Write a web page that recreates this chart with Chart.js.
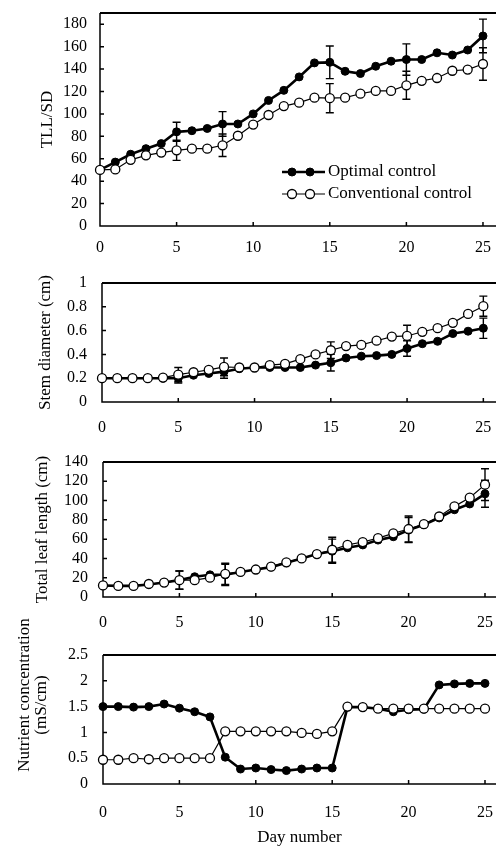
<!DOCTYPE html>
<html>
<head>
<meta charset="utf-8">
<script src="https://cdn.jsdelivr.net/npm/chart.js@4.4.1/dist/chart.umd.min.js"></script>
<style>
  body { margin: 0; background: #fff; }
  canvas { position: absolute; left: 0; }
</style>
</head>
<body>
<canvas id="tll-chart" width="496" height="262" style="top:0px"></canvas>
<canvas id="stem-chart" width="496" height="180" style="top:262px"></canvas>
<canvas id="leaf-chart" width="496" height="190" style="top:442px"></canvas>
<canvas id="nutrient-chart" width="496" height="238" style="top:612px"></canvas>
<script>
// Values (day 0 .. 25)
const days = [0, 1, 2, 3, 4, 5, 6, 7, 8, 9, 10, 11, 12, 13, 14, 15, 16, 17, 18, 19, 20, 21, 22, 23, 24, 25];
const dayTicks = [0, 5, 10, 15, 20, 25];
const errDays = [5, 8, 15, 20, 25];
const seriesNames = ['Optimal control', 'Conventional control'];

const tllOptimal = [50, 57, 64, 69, 73.5, 84, 85, 87, 91, 91, 100, 112, 121, 133, 145.5, 146, 138, 136, 142.5, 147, 148.5, 148.5, 154.5, 152.5, 157, 169.5];
const tllConventional = [50, 50.5, 59, 63, 65.5, 67.5, 69, 69, 72, 80.5, 90.5, 99, 107, 110, 114.5, 114, 114.5, 118, 120.5, 120.5, 125.5, 129.5, 132, 138.5, 139.5, 144.5];
const tllOptimalErr = [8.5, 11, 14.5, 14, 15];
const tllConventionalErr = [9, 10, 13, 12.5, 14.5];
const tllTicks = [0, 20, 40, 60, 80, 100, 120, 140, 160, 180];

const stemOptimal = [0.2, 0.2, 0.2, 0.2, 0.2, 0.2, 0.225, 0.24, 0.255, 0.28, 0.29, 0.29, 0.29, 0.29, 0.31, 0.33, 0.37, 0.385, 0.39, 0.4, 0.45, 0.49, 0.51, 0.575, 0.595, 0.62];
const stemConventional = [0.2, 0.2, 0.2, 0.2, 0.205, 0.23, 0.25, 0.27, 0.295, 0.29, 0.29, 0.31, 0.32, 0.36, 0.4, 0.435, 0.47, 0.48, 0.515, 0.55, 0.555, 0.59, 0.62, 0.665, 0.74, 0.805];
const stemOptimalErr = [0.04, 0.055, 0.07, 0.065, 0.085];
const stemConventionalErr = [0.06, 0.075, 0.07, 0.09, 0.085];
const stemTicks = [0, 0.2, 0.4, 0.6, 0.8, 1];

const leafOptimal = [12, 11.5, 11.5, 13, 15, 17.5, 21, 23, 23, 26, 28.5, 31, 35.5, 40, 44.5, 47.5, 51, 54, 59, 62.5, 69.5, 75, 82, 90.5, 96.5, 107];
const leafConventional = [12, 11.5, 11.5, 13.5, 15, 17.5, 17.5, 20, 24, 26, 28.5, 31.5, 36, 40, 44.5, 49, 54, 57, 61, 66, 70.5, 75.5, 83.5, 94, 103, 116.5];
const leafOptimalErr = [9.5, 11, 12.5, 13, 14];
const leafConventionalErr = [9.5, 11, 13, 13.5, 16.5];
const leafTicks = [0, 20, 40, 60, 80, 100, 120, 140];

const nutrientOptimal = [1.5, 1.5, 1.49, 1.5, 1.55, 1.47, 1.4, 1.3, 0.52, 0.29, 0.31, 0.28, 0.26, 0.29, 0.31, 0.31, 1.49, 1.49, 1.46, 1.4, 1.44, 1.45, 1.92, 1.94, 1.95, 1.95];
const nutrientConventional = [0.47, 0.47, 0.5, 0.48, 0.5, 0.5, 0.5, 0.5, 1.02, 1.02, 1.02, 1.02, 1.02, 0.99, 0.97, 1.02, 1.5, 1.49, 1.46, 1.46, 1.46, 1.46, 1.46, 1.46, 1.46, 1.46];
const nutrientTicks = [0, 0.5, 1, 1.5, 2, 2.5];

const serif = "'Liberation Serif', 'Times New Roman', serif";
const ink = '#000';

function series(values, errs, filled) {
    return {
        label: filled ? seriesNames[0] : seriesNames[1],
        data: days.map((d, i) => ({ x: d, y: values[i] })),
        errs: errs,
        borderColor: ink,
        borderWidth: filled ? 2.6 : 1.2,
        pointRadius: filled ? 4 : 4.5,
        pointBackgroundColor: filled ? ink : '#fff',
        pointBorderColor: ink,
        pointBorderWidth: filled ? 1 : 1.3,
        tension: 0,
        clip: false,
        order: filled ? 1 : 0
    };
}

function drawMarker(ctx, ds, px, py) {
    ctx.beginPath();
    ctx.arc(px, py, ds.pointRadius, 0, Math.PI * 2);
    ctx.fillStyle = ds.pointBackgroundColor;
    ctx.fill();
    ctx.lineWidth = ds.pointBorderWidth;
    ctx.strokeStyle = ink;
    ctx.stroke();
}

// box frame with inward tick marks
const frame = {
    id: 'frame',
    beforeDatasetsDraw(chart) {
        const { ctx, chartArea: a, scales: { x, y } } = chart;
        ctx.save();
        ctx.strokeStyle = ink;
        ctx.lineWidth = 2;
        ctx.beginPath();
        ctx.moveTo(a.left, a.top);
        ctx.lineTo(a.right, a.top);
        ctx.stroke();
        ctx.lineWidth = 1.5;
        ctx.beginPath();
        ctx.moveTo(a.left, a.top);
        ctx.lineTo(a.left, a.bottom);
        ctx.lineTo(a.right, a.bottom);
        x.ticks.forEach(t => {
            const p = x.getPixelForValue(t.value);
            ctx.moveTo(p, a.bottom);
            ctx.lineTo(p, a.bottom - 4);
        });
        y.ticks.forEach(t => {
            const p = y.getPixelForValue(t.value);
            ctx.moveTo(a.left, p);
            ctx.lineTo(a.left + 4, p);
        });
        ctx.stroke();
        ctx.restore();
    }
};

const errorBars = {
    id: 'errorBars',
    beforeDatasetsDraw(chart) {
        const { ctx, scales: { x, y } } = chart;
        ctx.save();
        ctx.strokeStyle = ink;
        ctx.lineWidth = 1.4;
        chart.data.datasets.forEach(ds => {
            if (!ds.errs) return;
            errDays.forEach((d, i) => {
                const v = ds.data[days.indexOf(d)].y;
                const px = x.getPixelForValue(d);
                const top = y.getPixelForValue(v + ds.errs[i]);
                const bot = y.getPixelForValue(v - ds.errs[i]);
                ctx.beginPath();
                ctx.moveTo(px, top); ctx.lineTo(px, bot);
                ctx.moveTo(px - 4, top); ctx.lineTo(px + 4, top);
                ctx.moveTo(px - 4, bot); ctx.lineTo(px + 4, bot);
                ctx.stroke();
            });
        });
        ctx.restore();
    }
};

// legend inside the first panel
const lineKey = {
    id: 'lineKey',
    afterDatasetsDraw(chart) {
        const ctx = chart.ctx;
        ctx.save();
        chart.data.datasets.forEach((ds, i) => {
            const ky = 172 + i * 22;
            ctx.beginPath();
            ctx.moveTo(282, ky);
            ctx.lineTo(325, ky);
            ctx.lineWidth = ds.borderWidth;
            ctx.strokeStyle = ink;
            ctx.stroke();
            drawMarker(ctx, ds, 292, ky);
            drawMarker(ctx, ds, 310, ky);
            ctx.font = '17px ' + serif;
            ctx.fillStyle = ink;
            ctx.textAlign = 'left';
            ctx.textBaseline = 'middle';
            ctx.fillText(ds.label, 328, ky);
        });
        ctx.restore();
    }
};

// two-line rotated axis title of the last panel
const sideTitle = {
    id: 'sideTitle',
    afterDraw(chart) {
        const ctx = chart.ctx;
        ctx.save();
        ctx.font = '17px ' + serif;
        ctx.fillStyle = ink;
        ctx.textAlign = 'center';
        ctx.textBaseline = 'middle';
        [['Nutrient concentration', 25, 83], ['(mS/cm)', 42, 93]].forEach(([text, cx, cy]) => {
            ctx.save();
            ctx.translate(cx, cy);
            ctx.rotate(-Math.PI / 2);
            ctx.fillText(text, 0, 0);
            ctx.restore();
        });
        ctx.restore();
    }
};

function makePanel(id, p) {
    return new Chart(document.getElementById(id).getContext('2d'), {
        type: 'line',
        data: {
            datasets: [
                series(p.optimal, p.optimalErr, true),
                series(p.conventional, p.conventionalErr, false)
            ]
        },
        options: {
            responsive: false,
            animation: false,
            devicePixelRatio: 1,
            layout: { autoPadding: false, padding: { top: p.top, left: 0, right: 0, bottom: 0 } },
            plugins: { legend: { display: false }, tooltip: { enabled: false } },
            scales: {
                x: {
                    type: 'linear',
                    min: 0,
                    max: p.xMax,
                    afterBuildTicks: s => { s.ticks = dayTicks.map(v => ({ value: v })); },
                    afterFit: s => {
                        s.height = p.xHeight;
                        s.paddingLeft = 0; s.paddingRight = 0;
                    },
                    grid: { display: false, drawTicks: false },
                    border: { display: false },
                    ticks: {
                        padding: p.xPad, color: ink, maxRotation: 0, autoSkip: false,
                        font: { family: serif, size: 16 },
                        callback: v => String(v)
                    },
                    title: {
                        display: !!p.xTitle,
                        text: p.xTitle || '',
                        color: ink,
                        font: { family: serif, size: 17 },
                        padding: { top: 0, bottom: 2 }
                    }
                },
                y: {
                    type: 'linear',
                    min: 0,
                    max: p.yMax,
                    afterBuildTicks: s => { s.ticks = p.yTicks.map(v => ({ value: v })); },
                    afterFit: s => {
                        s.width = p.left;
                        s.paddingTop = 0; s.paddingBottom = 0;
                    },
                    grid: { display: false, drawTicks: false },
                    border: { display: false },
                    ticks: {
                        padding: p.yPad, color: ink, autoSkip: false,
                        font: { family: serif, size: 16 },
                        callback: v => String(v)
                    },
                    title: {
                        display: !!p.yTitle,
                        text: p.yTitle || '',
                        color: ink,
                        font: { family: serif, size: 17 },
                        padding: { top: p.titlePad || 0, bottom: 0 }
                    }
                }
            }
        },
        plugins: [frame, errorBars].concat(p.extra || [])
    });
}

const tllChart = makePanel('tll-chart', {
    optimal: tllOptimal, conventional: tllConventional,
    optimalErr: tllOptimalErr, conventionalErr: tllConventionalErr,
    yTicks: tllTicks, yMax: 190, xMax: 25.85,
    top: 13, left: 100, xHeight: 36, xPad: 12, yPad: 13,
    yTitle: 'TLL/SD', titlePad: 37,
    extra: [lineKey]
});

const stemChart = makePanel('stem-chart', {
    optimal: stemOptimal, conventional: stemConventional,
    optimalErr: stemOptimalErr, conventionalErr: stemConventionalErr,
    yTicks: stemTicks, yMax: 1, xMax: 25.83,
    top: 21, left: 102, xHeight: 40, xPad: 16, yPad: 15,
    yTitle: 'Stem diameter (cm)', titlePad: 35
});

const leafChart = makePanel('leaf-chart', {
    optimal: leafOptimal, conventional: leafConventional,
    optimalErr: leafOptimalErr, conventionalErr: leafConventionalErr,
    yTicks: leafTicks, yMax: 140, xMax: 25.72,
    top: 20, left: 103, xHeight: 35, xPad: 16, yPad: 15,
    yTitle: 'Total leaf length (cm)', titlePad: 32
});

const nutrientChart = makePanel('nutrient-chart', {
    optimal: nutrientOptimal, conventional: nutrientConventional,
    yTicks: nutrientTicks, yMax: 2.5, xMax: 25.72,
    top: 43, left: 103, xHeight: 66, xPad: 19, yPad: 15,
    xTitle: 'Day number',
    extra: [sideTitle]
});
</script>
</body>
</html>
